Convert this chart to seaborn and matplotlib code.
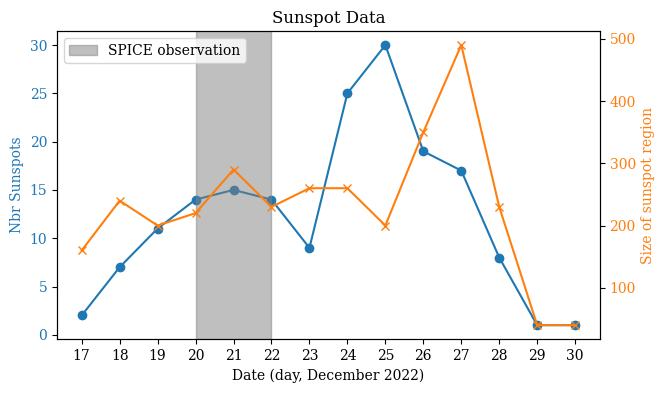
import pandas as pd
import matplotlib
matplotlib.use("Agg")
import matplotlib.pyplot as plt
import seaborn as sns

plt.rcParams['font.family'] = ['DejaVu Serif']

# data
days = [17, 18, 19, 20, 21, 22, 23, 24, 25, 26, 27, 28, 29, 30]
nbr_sunspots = [2, 7, 11, 14, 15, 14, 9, 25, 30, 19, 17, 8, 1, 1]
region_size = [160, 240, 200, 220, 290, 230, 260, 260, 200, 350, 490, 230, 40, 40]
spice_start, spice_end = 20, 22

df = pd.DataFrame({'day': days, 'nbr': nbr_sunspots, 'size': region_size})

fig, ax1 = plt.subplots(figsize=(6.65, 3.93), dpi=100)
fig.subplots_adjust(left=0.0857, right=0.902, top=0.921, bottom=0.137)

sns.lineplot(ax=ax1, x='day', y='nbr', data=df, color='tab:blue', marker='o',
             markersize=6, markeredgewidth=1, markeredgecolor='tab:blue')
ax1.axvspan(spice_start, spice_end, color='gray', alpha=0.5, label='SPICE observation', zorder=3)
ax1.set_ylabel('Nbr Sunspots', color='tab:blue')
ax1.tick_params(axis='y', labelcolor='tab:blue')
ax1.set_xlabel('Date (day, December 2022)')
ax1.set_xticks(days)
ax1.legend(loc='upper left')

ax2 = ax1.twinx()
sns.lineplot(ax=ax2, x='day', y='size', data=df, color='tab:orange', marker='x',
             markersize=6, markeredgewidth=1, markeredgecolor='tab:orange')
ax2.set_ylabel('Size of sunspot region', color='tab:orange')
ax2.tick_params(axis='y', labelcolor='tab:orange')

ax1.set_title('Sunspot Data')

plt.savefig('out.png', dpi=100)
